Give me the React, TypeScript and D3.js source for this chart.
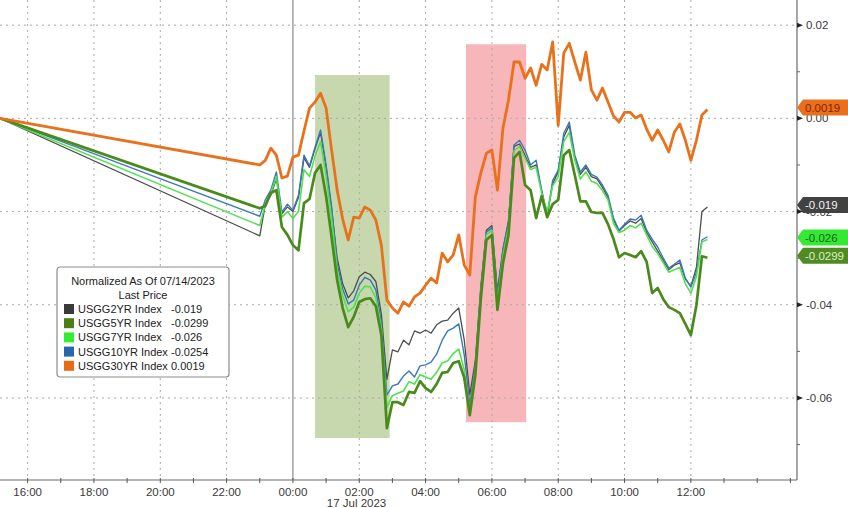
import React, { useEffect, useRef } from 'react';
import * as d3 from 'd3';

// times: first point is Sun 16 Jul, then the 10-min grid into Mon 17 Jul
const times = [
  '15:10', '23:00', '23:10', '23:20', '23:30', '23:40', '23:50',
  '00:00', '00:10', '00:20', '00:30', '00:40', '00:50',
  '01:00', '01:10', '01:20', '01:30', '01:40', '01:50',
  '02:00', '02:10', '02:20', '02:30', '02:40', '02:50',
  '03:00', '03:10', '03:20', '03:30', '03:40', '03:50',
  '04:00', '04:10', '04:20', '04:30', '04:40', '04:50',
  '05:00', '05:10', '05:20', '05:30', '05:40', '05:50',
  '06:00', '06:10', '06:20', '06:30', '06:40', '06:50',
  '07:00', '07:10', '07:20', '07:30', '07:40', '07:50',
  '08:00', '08:10', '08:20', '08:30', '08:40', '08:50',
  '09:00', '09:10', '09:20', '09:30', '09:40', '09:50',
  '10:00', '10:10', '10:20', '10:30', '10:40', '10:50',
  '11:00', '11:10', '11:20', '11:30', '11:40', '11:50',
  '12:00', '12:10', '12:20', '12:30',
];

const usgg2yr = [
  0, -0.0252, -0.0185, -0.0165, -0.0130, -0.0205, -0.0190,
  -0.0200, -0.0170, -0.0085, -0.0105, -0.0065, -0.0030,
  -0.0105, -0.0195, -0.0300, -0.0355, -0.0385, -0.0370,
  -0.0340, -0.0330, -0.0335, -0.0350, -0.0420, -0.0560,
  -0.0497, -0.0501, -0.0476, -0.0486, -0.0456, -0.0461,
  -0.0454, -0.0461, -0.0443, -0.0435, -0.0433, -0.0418,
  -0.0407, -0.0476, -0.0593, -0.0520, -0.0360, -0.0240,
  -0.0230, -0.0370, -0.0280, -0.0220, -0.0060, -0.0055,
  -0.0080, -0.0105, -0.0100, -0.0155, -0.0210, -0.0140,
  -0.0115, -0.0040, -0.0015, -0.0085, -0.0120, -0.0105,
  -0.0125, -0.0130, -0.0148, -0.0170, -0.0218, -0.0242,
  -0.0230, -0.0220, -0.0225, -0.0215, -0.0245, -0.0265,
  -0.0285, -0.0305, -0.0325, -0.0315, -0.0310, -0.0345,
  -0.0360, -0.0320, -0.0200, -0.0190,
];

const usgg5yr = [
  0, -0.0193, -0.0188, -0.0160, -0.0154, -0.0233, -0.0250,
  -0.0272, -0.0283, -0.0182, -0.0173, -0.0117, -0.0100,
  -0.0167, -0.0255, -0.0347, -0.0407, -0.0448, -0.0426,
  -0.0394, -0.0388, -0.0386, -0.0403, -0.0465, -0.0665,
  -0.0609, -0.0609, -0.0615, -0.0587, -0.0589, -0.0564,
  -0.0579, -0.0587, -0.0570, -0.0546, -0.0544, -0.0525,
  -0.0521, -0.0557, -0.0637, -0.0551, -0.0386, -0.0261,
  -0.0250, -0.0411, -0.0311, -0.0250, -0.0085, -0.0072,
  -0.0143, -0.0154, -0.0214, -0.0167, -0.0212, -0.0184,
  -0.0175, -0.0079, -0.0068, -0.0122, -0.0178, -0.0178,
  -0.0201, -0.0203, -0.0203, -0.0227, -0.0259, -0.0298,
  -0.0289, -0.0293, -0.0298, -0.0285, -0.0308, -0.0375,
  -0.0364, -0.0388, -0.0405, -0.0411, -0.0418, -0.0441,
  -0.0465, -0.0401, -0.0296, -0.0299,
];

const usgg7yr = [
  0, -0.0230, -0.0185, -0.0160, -0.0125, -0.0212, -0.0200,
  -0.0215, -0.0200, -0.0110, -0.0125, -0.0080, -0.0050,
  -0.0125, -0.0215, -0.0325, -0.0380, -0.0415, -0.0405,
  -0.0375, -0.0360, -0.0362, -0.0385, -0.0450, -0.0620,
  -0.0595, -0.0590, -0.0585, -0.0565, -0.0570, -0.0550,
  -0.0555, -0.0560, -0.0545, -0.0525, -0.0520, -0.0505,
  -0.0495, -0.0540, -0.0630, -0.0540, -0.0375, -0.0250,
  -0.0240, -0.0395, -0.0295, -0.0235, -0.0070, -0.0060,
  -0.0085, -0.0110, -0.0105, -0.0160, -0.0200, -0.0145,
  -0.0125, -0.0050, -0.0030, -0.0090, -0.0130, -0.0115,
  -0.0135, -0.0140, -0.0155, -0.0175, -0.0225, -0.0245,
  -0.0240, -0.0230, -0.0235, -0.0225, -0.0250, -0.0275,
  -0.0290, -0.0310, -0.0330, -0.0325, -0.0320, -0.0355,
  -0.0375, -0.0340, -0.0265, -0.0260,
];

const usgg10yr = [
  0, -0.0210, -0.0175, -0.0154, -0.0115, -0.0201, -0.0184,
  -0.0197, -0.0165, -0.0079, -0.0102, -0.0062, -0.0025,
  -0.0100, -0.0190, -0.0311, -0.0366, -0.0398, -0.0390,
  -0.0358, -0.0341, -0.0347, -0.0368, -0.0437, -0.0594,
  -0.0574, -0.0570, -0.0553, -0.0542, -0.0555, -0.0531,
  -0.0529, -0.0523, -0.0506, -0.0476, -0.0456, -0.0450,
  -0.0441, -0.0508, -0.0615, -0.0529, -0.0368, -0.0244,
  -0.0235, -0.0379, -0.0283, -0.0223, -0.0057, -0.0047,
  -0.0068, -0.0100, -0.0090, -0.0154, -0.0208, -0.0133,
  -0.0111, -0.0032, -0.0008, -0.0079, -0.0115, -0.0100,
  -0.0120, -0.0126, -0.0143, -0.0165, -0.0214, -0.0240,
  -0.0227, -0.0216, -0.0218, -0.0208, -0.0240, -0.0259,
  -0.0276, -0.0300, -0.0321, -0.0313, -0.0304, -0.0343,
  -0.0362, -0.0330, -0.0261, -0.0254,
];

const usgg30yr = [
  0, -0.0100, -0.0090, -0.0064, -0.0079, -0.0128, -0.0124,
  -0.0083, -0.0079, -0.0027, 0.0022, 0.0035, 0.0054,
  0.0022, -0.0068, -0.0154, -0.0216, -0.0261, -0.0212,
  -0.0214, -0.0190, -0.0197, -0.0218, -0.0272, -0.0390,
  -0.0407, -0.0418, -0.0394, -0.0403, -0.0383, -0.0375,
  -0.0358, -0.0343, -0.0353, -0.0289, -0.0308, -0.0293,
  -0.0250, -0.0315, -0.0336, -0.0169, -0.0117, -0.0075,
  -0.0068, -0.0154, -0.0021, 0.0039, 0.0121, 0.0121,
  0.0086, 0.0108, 0.0071, 0.0116, 0.0104, 0.0164,
  -0.0015, 0.0140, 0.0161, 0.0121, 0.0082, 0.0142,
  0.0061, 0.0039, 0.0065, 0.0035, 0.0005, -0.0008,
  0.0013, 0.0013, 0.0001, 0.0007, -0.0023, -0.0047,
  -0.0025, -0.0047, -0.0072, -0.0030, -0.0012, -0.0047,
  -0.0090, -0.0047, 0.0007, 0.0019,
];

const seriesNames = ['USGG2YR Index', 'USGG5YR Index', 'USGG7YR Index', 'USGG10YR Index', 'USGG30YR Index'];
const lastPrices = ['-0.019', '-0.0299', '-0.026', '-0.0254', '0.0019'];

const tickLabels = ['16:00', '18:00', '20:00', '22:00', '00:00', '02:00', '04:00', '06:00', '08:00', '10:00', '12:00'];
const yTicks = [0.02, 0, -0.02, -0.04, -0.06];
const yMinorTicks = [0.01, -0.01, -0.03, -0.05, -0.07];

// highlighted periods: [start, end, upper value, lower value]
const greenSpan = ['00:40', '02:55', 0.0093, -0.0686];
const pinkSpan = ['05:13', '07:02', 0.0159, -0.0652];

const parseTime = (s: string) => {
  const [h, m] = s.split(':').map(Number);
  return new Date(2023, 6, h >= 15 ? 16 : 17, h, m);
};

const App: React.FC = () => {
  const svgRef = useRef<SVGSVGElement>(null);

  useEffect(() => {
    if (!svgRef.current) return;
    const svg = d3.select(svgRef.current);
    svg.selectAll('*').remove();

    const W = 848, H = 508;
    const plotRight = 797, plotBottom = 480;
    const font = '"Liberation Sans", Arial, sans-serif';

    const x = d3.scaleTime()
      .domain([new Date(2023, 6, 16, 15, 10), new Date(2023, 6, 17, 15, 12)])
      .range([0, plotRight]);
    const y = d3.scaleLinear().domain([-0.0776, 0.0254]).range([plotBottom, 0]);

    svg.append('rect').attr('width', W).attr('height', H).attr('fill', '#ffffff');

    // shaded periods
    [[greenSpan, '#c7d8ae'], [pinkSpan, '#f7b6b9']].forEach(([span, color]: any) => {
      const [a, b, top, bottom] = span;
      svg.append('rect')
        .attr('x', x(parseTime(a)))
        .attr('y', y(top))
        .attr('width', x(parseTime(b)) - x(parseTime(a)))
        .attr('height', y(bottom) - y(top))
        .attr('fill', color);
    });

    // grid
    const grid = svg.append('g');
    yTicks.forEach(v => {
      grid.append('line')
        .attr('x1', 0).attr('x2', plotRight)
        .attr('y1', y(v)).attr('y2', y(v))
        .attr('stroke', '#a8a8a8').attr('stroke-dasharray', '2,4').attr('stroke-width', 1);
    });
    tickLabels.forEach(t => {
      const xx = x(parseTime(t));
      const solid = t === '00:00';
      grid.append('line')
        .attr('x1', xx).attr('x2', xx)
        .attr('y1', 0).attr('y2', plotBottom)
        .attr('stroke', solid ? '#8a8a8a' : '#a8a8a8')
        .attr('stroke-dasharray', solid ? null : '2,4')
        .attr('stroke-width', solid ? 1.2 : 1);
    });

    // lines
    const dates = times.map(parseTime);
    const line = d3.line<number>()
      .x((_, i) => x(dates[i]))
      .y(d => y(d));
    const lineDefs: [number[], string, number][] = [
      [usgg2yr, '#4e4e4e', 1.3],
      [usgg10yr, '#3b78b5', 1.4],
      [usgg7yr, '#52e052', 1.6],
      [usgg5yr, '#4a8a1c', 2.7],
      [usgg30yr, '#e8711c', 2.8],
    ];
    lineDefs.forEach(([vals, color, w]) => {
      svg.append('path')
        .datum(vals)
        .attr('d', line)
        .attr('fill', 'none')
        .attr('stroke', color)
        .attr('stroke-width', w)
        .attr('stroke-linejoin', 'round');
    });

    // axes
    svg.append('line').attr('x1', plotRight).attr('x2', plotRight).attr('y1', 0).attr('y2', plotBottom)
      .attr('stroke', '#6a6a6a').attr('stroke-width', 1.2);
    svg.append('line').attr('x1', 0).attr('x2', plotRight).attr('y1', plotBottom).attr('y2', plotBottom)
      .attr('stroke', '#6a6a6a').attr('stroke-width', 1.2);

    x.ticks(d3.timeHour.every(1)).forEach(t => {
      svg.append('line')
        .attr('x1', x(t)).attr('x2', x(t))
        .attr('y1', plotBottom - 2).attr('y2', plotBottom + 3)
        .attr('stroke', '#555').attr('stroke-width', 1);
    });
    tickLabels.forEach(t => {
      svg.append('text')
        .attr('x', x(parseTime(t)))
        .attr('y', 496)
        .attr('text-anchor', 'middle')
        .style('font-family', font)
        .style('font-size', '11.5px')
        .attr('fill', '#3a3a3a')
        .text(t);
    });
    svg.append('text')
      .attr('x', x(parseTime('01:55')))
      .attr('y', 507)
      .attr('text-anchor', 'middle')
      .style('font-family', font)
      .style('font-size', '11.5px')
      .attr('fill', '#3a3a3a')
      .text('17 Jul 2023');

    yTicks.forEach(v => {
      svg.append('path')
        .attr('d', `M${plotRight},${y(v) - 2.5}L${plotRight + 6},${y(v)}L${plotRight},${y(v) + 2.5}Z`)
        .attr('fill', '#222');
      svg.append('text')
        .attr('x', plotRight + 9)
        .attr('y', y(v) + 4)
        .style('font-family', font)
        .style('font-size', '11.5px')
        .attr('fill', '#3a3a3a')
        .text(d3.format('.2f')(v).replace('−', '-'));
    });
    yMinorTicks.forEach(v => {
      svg.append('line')
        .attr('x1', plotRight).attr('x2', plotRight + 3)
        .attr('y1', y(v)).attr('y2', y(v))
        .attr('stroke', '#666').attr('stroke-width', 1);
    });

    // last price tags on the right (drawn over the axis labels, as in the terminal)
    const tagDefs: [number, string, string, string][] = [
      [usgg30yr[usgg30yr.length - 1], lastPrices[4], '#e8701c', '#8e1e00'],
      [usgg2yr[usgg2yr.length - 1], lastPrices[0], '#424242', '#f2f2f2'],
      [usgg7yr[usgg7yr.length - 1], lastPrices[2], '#34e834', '#16661a'],
      [usgg5yr[usgg5yr.length - 1], lastPrices[1], '#4f8a22', '#d9f2c2'],
    ];
    tagDefs.forEach(([v, label, bg, fg]) => {
      const cy = y(v) - 2;
      svg.append('path')
        .attr('d', `M${plotRight},${cy}L${plotRight + 6},${cy - 8}L${W},${cy - 8}L${W},${cy + 8}L${plotRight + 6},${cy + 8}Z`)
        .attr('fill', bg);
      svg.append('text')
        .attr('x', plotRight + 8)
        .attr('y', cy + 4)
        .style('font-family', font)
        .style('font-size', '11.5px')
        .attr('fill', fg)
        .text(label);
    });

    // legend
    const lg = svg.append('g').attr('transform', 'translate(57,267)');
    lg.append('rect')
      .attr('width', 172).attr('height', 110).attr('rx', 3)
      .attr('fill', '#ffffff').attr('stroke', '#8c8c8c').attr('stroke-width', 1.2);
    lg.append('text').attr('x', 86).attr('y', 18).attr('text-anchor', 'middle')
      .style('font-family', font).style('font-size', '11px').attr('fill', '#222')
      .text('Normalized As Of 07/14/2023');
    lg.append('text').attr('x', 86).attr('y', 32).attr('text-anchor', 'middle')
      .style('font-family', font).style('font-size', '11px').attr('fill', '#222')
      .text('Last Price');
    const swatch = ['#3a3a3a', '#4b7f14', '#30ee30', '#2467ad', '#e86c16'];
    seriesNames.forEach((name, i) => {
      const ry = 46 + i * 14.2;
      lg.append('rect').attr('x', 7).attr('y', ry - 9).attr('width', 10).attr('height', 10).attr('fill', swatch[i]);
      lg.append('text').attr('x', 21).attr('y', ry)
        .style('font-family', font).style('font-size', '11px').attr('fill', '#222')
        .text(name);
      lg.append('text').attr('x', 114).attr('y', ry)
        .style('font-family', font).style('font-size', '11px').attr('fill', '#222')
        .text(lastPrices[i]);
    });
  }, []);

  return (
    <div style={{ position: 'absolute', left: 0, top: 0 }}>
      <svg ref={svgRef} width={848} height={508} style={{ display: 'block' }} />
    </div>
  );
};

export default App;
